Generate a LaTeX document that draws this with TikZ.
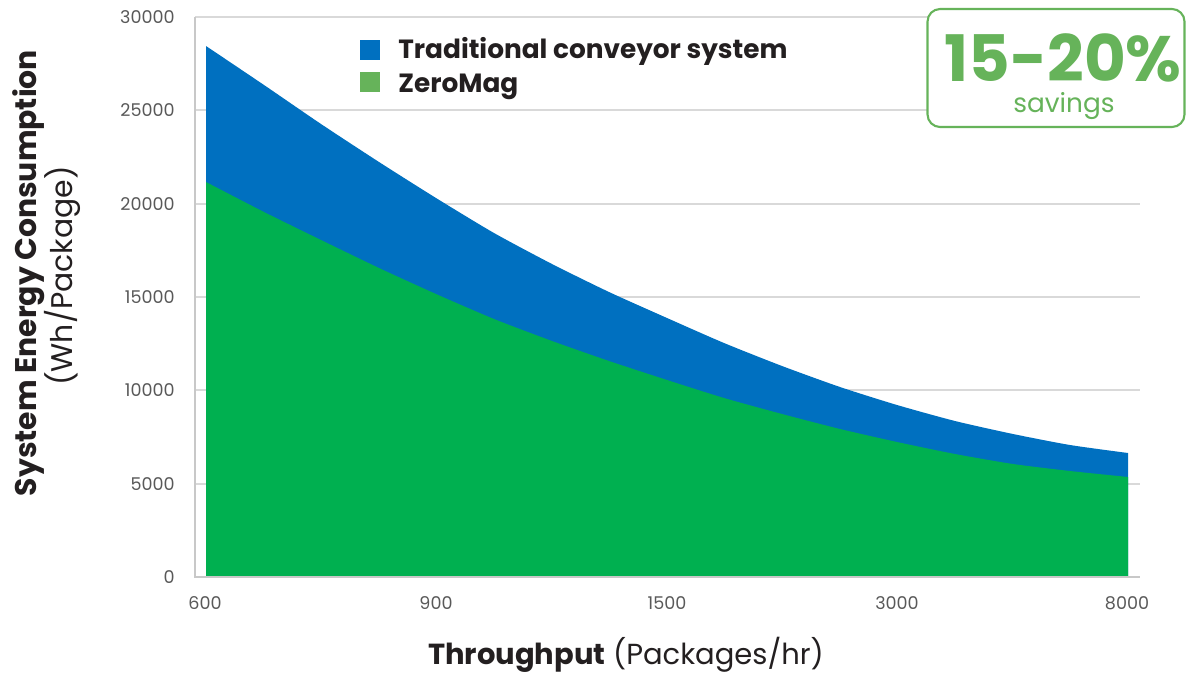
\documentclass[tikz,border=0pt]{standalone}
\usepackage{fontspec}
\setmainfont{Poppins}
\usepackage{tikz}

\definecolor{tradblue}{HTML}{0070C0}
\definecolor{zerogreen}{HTML}{00B050}
\definecolor{keygreen}{HTML}{66B35A}
\definecolor{gridgray}{HTML}{D9D9D9}
\definecolor{axisgray}{HTML}{C8C8C8}
\definecolor{ticktext}{HTML}{595959}
\definecolor{titletext}{HTML}{231F20}

\tikzset{
  grid line/.style={gridgray,line width=0.7pt},
  ylab/.style={anchor=east,text=ticktext,inner sep=0pt,font=\fontsize{10}{12}\selectfont},
  xlab/.style={anchor=center,text=ticktext,inner sep=0pt,font=\fontsize{10}{12}\selectfont},
  key/.style={minimum size=0.4cm,inner sep=0pt},
  keytext/.style={anchor=base west,inner sep=0pt,text=titletext,font=\fontsize{15}{17}\selectfont\bfseries}
}

\begin{document}
\begin{tikzpicture}[x=0.02cm,y=-0.02cm]
  \useasboundingbox (0,0) rectangle (1186,673);

  % grid
  \draw [grid line] (195,17) -- (1140,17);
  \draw [grid line] (195,110) -- (1140,110);
  \draw [grid line] (195,204) -- (1140,204);
  \draw [grid line] (195,297) -- (1140,297);
  \draw [grid line] (195,390) -- (1140,390);
  \draw [grid line] (195,484) -- (1140,484);

  % areas
  \fill [tradblue] (206,577) -- plot [smooth,tension=0.4] coordinates {(206,46) (264,85) (321,124) (379,162) (436,198) (494,233) (552,264) (609,292) (667,318) (724,343) (782,366) (840,387) (897,405) (955,421) (1013,434) (1070,445) (1128,453)} -- (1128,577) -- cycle;
  \fill [zerogreen] (206,577) -- plot [smooth,tension=0.4] coordinates {(206,182) (264,212) (321,240) (379,268) (436,294) (494,319) (552,341) (609,361) (667,380) (724,398) (782,414) (840,429) (897,442) (955,454) (1013,464) (1070,471) (1128,477)} -- (1128,577) -- cycle;

  % axes
  \draw [axisgray,line width=0.8pt] (195,17) -- (195,577) -- (1140,577);

  \node (y30000) [ylab] at (175,17) {30000};
  \node (y25000) [ylab] at (175,110) {25000};
  \node (y20000) [ylab] at (175,204) {20000};
  \node (y15000) [ylab] at (175,297) {15000};
  \node (y10000) [ylab] at (175,390) {10000};
  \node (y5000) [ylab] at (175,484) {5000};
  \node (y0) [ylab] at (175,577) {0};

  \node (x600) [xlab] at (205,603) {600};
  \node (x900) [xlab] at (436,603) {900};
  \node (x1500) [xlab] at (667,603) {1500};
  \node (x3000) [xlab] at (897,603) {3000};
  \node (x8000) [xlab] at (1127,603) {8000};

  \node (xtitle) [anchor=base,inner sep=0pt,text=titletext,font=\fontsize{16.5}{20}\selectfont] at (626,664) {\textbf{Throughput} (Packages/hr)};
  \node (ytitle) [rotate=90,inner sep=0pt,text=titletext,font=\fontsize{17}{20}\selectfont\bfseries] at (29,273) {System Energy Consumption};
  \node (yunit) [rotate=90,inner sep=0pt,text=titletext,font=\fontsize{17}{20}\selectfont] at (62,276) {(Wh/Package)};

  % legend
  \node (keytrad) [key,fill=tradblue] at (370,50) {};
  \node (keyzero) [key,fill=keygreen] at (370,82) {};
  \node (legtrad) [keytext] at (398,58) {Traditional conveyor system};
  \node (legzero) [keytext] at (398,92) {ZeroMag};

  % savings box
  \node (savebox) [draw=keygreen,fill=white,line width=1.2pt,rounded corners=0.25cm,minimum width=5.14cm,minimum height=2.36cm] at (1056,68) {};
  \node (pct) [anchor=base,inner sep=0pt,text=keygreen,font=\fontsize{36.5}{40}\selectfont\bfseries] at (1063,81) {15-20\%};
  \node (savings) [anchor=base,inner sep=0pt,text=keygreen,font=\fontsize{15}{18}\selectfont] at (1064,112) {savings};

\end{tikzpicture}
\end{document}
